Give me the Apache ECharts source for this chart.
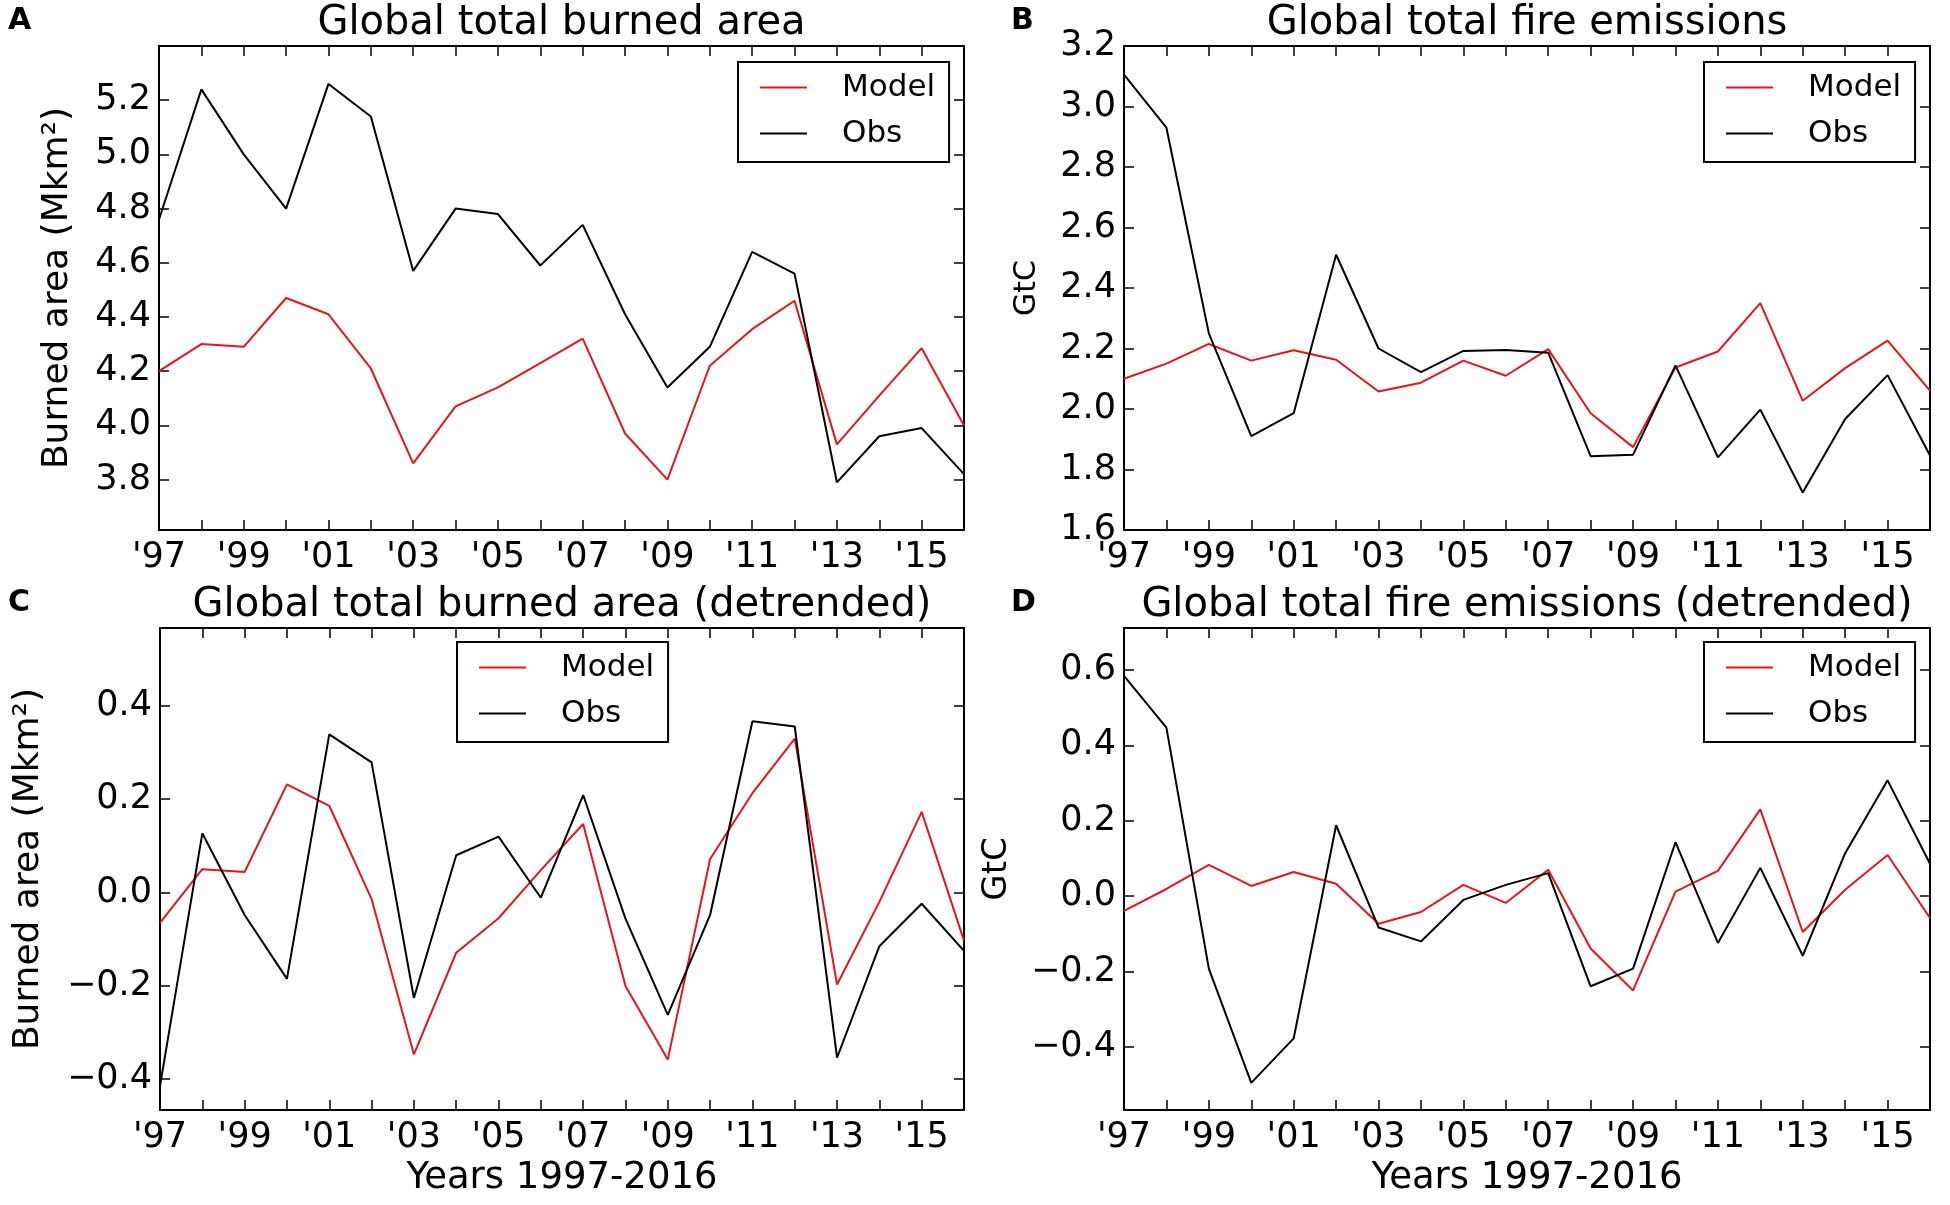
<!DOCTYPE html>
<html style="height: 100%">
<head>
  <meta charset="utf-8">
</head>
<body style="height: 100%; margin: 0; background: #fff">
  <div id="container" style="width: 1950px; height: 1205px"></div>
  <script type="text/javascript" src="https://fastly.jsdelivr.net/npm/echarts@6.0.0/dist/echarts.min.js"></script>
  <script type="text/javascript">
const years = [1997, 1998, 1999, 2000, 2001, 2002, 2003, 2004, 2005, 2006,
               2007, 2008, 2009, 2010, 2011, 2012, 2013, 2014, 2015, 2016];

// A: global total burned area (Mkm2)
const areaModel = [4.20, 4.30, 4.29, 4.47, 4.41, 4.21, 3.86, 4.07, 4.14, 4.23,
                   4.32, 3.97, 3.80, 4.22, 4.355, 4.46, 3.93, 4.11, 4.285, 4.00];
const areaObs   = [4.76, 5.24, 5.00, 4.80, 5.26, 5.14, 4.57, 4.80, 4.78, 4.59,
                   4.74, 4.41, 4.14, 4.29, 4.64, 4.56, 3.79, 3.96, 3.99, 3.82];

// B: global total fire emissions (GtC)
const emisModel = [2.10, 2.15, 2.215, 2.16, 2.194, 2.163, 2.058, 2.087, 2.16, 2.11,
                   2.198, 1.986, 1.874, 2.137, 2.19, 2.35, 2.027, 2.135, 2.226, 2.061];
const emisObs   = [3.105, 2.93, 2.25, 1.91, 1.986, 2.51, 2.20, 2.122, 2.192, 2.195,
                   2.186, 1.844, 1.849, 2.144, 1.84, 1.998, 1.724, 1.967, 2.112, 1.846];

// C: burned area, detrended
const areaModelDt = [-0.065, 0.05, 0.044, 0.232, 0.186, -0.014, -0.347, -0.129, -0.055, 0.048,
                     0.147, -0.20, -0.358, 0.072, 0.213, 0.33, -0.197, -0.02, 0.173, -0.103];
const areaObsDt   = [-0.415, 0.127, -0.048, -0.185, 0.339, 0.279, -0.226, 0.08, 0.12, -0.011,
                     0.209, -0.056, -0.262, -0.048, 0.367, 0.356, -0.354, -0.115, -0.024, -0.125];

// D: fire emissions, detrended
const emisModelDt = [-0.039, 0.019, 0.083, 0.027, 0.064, 0.033, -0.073, -0.042, 0.03, -0.018,
                     0.07, -0.139, -0.25, 0.012, 0.067, 0.23, -0.095, 0.017, 0.109, -0.058];
const emisObsDt   = [0.584, 0.447, -0.192, -0.495, -0.377, 0.188, -0.083, -0.12, -0.01, 0.03,
                     0.061, -0.239, -0.192, 0.143, -0.124, 0.075, -0.158, 0.114, 0.307, 0.086];

const ticksA = [3.8, 4.0, 4.2, 4.4, 4.6, 4.8, 5.0, 5.2];
const ticksB = [1.6, 1.8, 2.0, 2.2, 2.4, 2.6, 2.8, 3.0, 3.2];
const ticksC = [-0.4, -0.2, 0.0, 0.2, 0.4];
const ticksD = [-0.4, -0.2, 0.0, 0.2, 0.4, 0.6];

const titles = ['Global total burned area', 'Global total fire emissions',
                'Global total burned area (detrended)', 'Global total fire emissions (detrended)'];
const letters = ['A', 'B', 'C', 'D'];

var dom = document.getElementById('container');
var myChart = echarts.init(dom, null, { renderer: 'canvas' });

const FONT = 'DejaVu Sans';
const RED = '#e3161e';

var panels = [
  { grid: { left: 159, top: 46, width: 805, height: 484 }, ymin: 3.614, ymax: 5.4, ticks: ticksA,
    yname: 'Burned area (Mkm²)', ynameSize: 36, ynameGap: 83, xname: '',
    model: areaModel, obs: areaObs, legend: { left: 738, top: 62 } },
  { grid: { left: 1124, top: 46, width: 806, height: 484 }, ymin: 1.6, ymax: 3.2, ticks: ticksB,
    yname: 'GtC', ynameSize: 30, ynameGap: 82, xname: '',
    model: emisModel, obs: emisObs, legend: { left: 1704, top: 62 } },
  { grid: { left: 160, top: 628, width: 804, height: 482 }, ymin: -0.466, ymax: 0.567, ticks: ticksC,
    yname: 'Burned area (Mkm²)', ynameSize: 36, ynameGap: 113, xname: 'Years 1997-2016',
    model: areaModelDt, obs: areaObsDt, legend: { left: 457, top: 642 } },
  { grid: { left: 1124, top: 628, width: 806, height: 482 }, ymin: -0.567, ymax: 0.711, ticks: ticksD,
    yname: 'GtC', ynameSize: 34, ynameGap: 110, xname: 'Years 1997-2016',
    model: emisModelDt, obs: emisObsDt, legend: { left: 1704, top: 642 } }
];

function fmtY(v) {
  return v.toFixed(1).replace('-', '\u2212');
}

var option = {
  animation: false,
  backgroundColor: '#fff',
  title: [],
  legend: [],
  grid: [],
  xAxis: [],
  yAxis: [],
  series: []
};

panels.forEach(function (p, i) {
  option.grid.push(p.grid);
  var cx = p.grid.left + p.grid.width / 2;
  option.title.push({
    text: titles[i], left: cx, top: p.grid.top - 42, textAlign: 'center', padding: 0,
    textStyle: { fontFamily: FONT, fontSize: 40, fontWeight: 'normal', color: '#000' }
  });
  option.title.push({
    text: letters[i], left: i % 2 ? 1011 : 8, top: p.grid.top - 40, padding: 0,
    textStyle: { fontFamily: FONT, fontSize: 30, fontWeight: 'bold', color: '#000' }
  });
  option.legend.push({
    data: ['Model', 'Obs'],
    left: p.legend.left, top: p.legend.top,
    orient: 'vertical',
    icon: 'rect', itemWidth: 47, itemHeight: 2, itemGap: 15,
    padding: [10, 14, 13, 22],
    borderColor: '#000', borderWidth: 2, borderRadius: 0,
    backgroundColor: '#fff',
    selectedMode: false,
    textStyle: { fontFamily: FONT, fontSize: 31, color: '#000', padding: [0, 0, 0, 30] }
  });

  var xBase = {
    type: 'value', gridIndex: i, min: 1997, max: 2016, interval: 1,
    axisLine: { show: true, onZero: false, lineStyle: { color: '#000', width: 2 } },
    axisTick: { show: true, inside: true, length: 10, lineStyle: { color: '#000', width: 1.5 } },
    splitLine: { show: false }
  };
  option.xAxis.push(Object.assign({}, xBase, {
    position: 'bottom',
    name: p.xname, nameLocation: 'middle', nameGap: 50,
    nameTextStyle: { fontFamily: FONT, fontSize: 37, color: '#000' },
    axisLabel: {
      show: true, margin: 10, fontFamily: FONT, fontSize: 35, color: '#000',
      formatter: function (v) { return v % 2 ? "'" + String(v).slice(2) : ''; }
    }
  }));
  option.xAxis.push(Object.assign({}, xBase, { position: 'top', axisLabel: { show: false } }));

  var yBase = {
    type: 'value', gridIndex: i, min: p.ymin, max: p.ymax,
    axisLine: { show: true, onZero: false, lineStyle: { color: '#000', width: 2 } },
    axisTick: { show: true, inside: true, length: 10, customValues: p.ticks,
                lineStyle: { color: '#000', width: 1.5 } },
    splitLine: { show: false }
  };
  option.yAxis.push(Object.assign({}, yBase, {
    position: 'left',
    name: p.yname, nameLocation: 'middle', nameGap: p.ynameGap,
    nameTextStyle: { fontFamily: FONT, fontSize: p.ynameSize, color: '#000' },
    axisLabel: { show: true, margin: 8, fontFamily: FONT, fontSize: 35, color: '#000',
                 customValues: p.ticks, formatter: fmtY }
  }));
  option.yAxis.push(Object.assign({}, yBase, { position: 'right', axisLabel: { show: false } }));

  option.series.push({
    name: 'Model', type: 'line', xAxisIndex: i * 2, yAxisIndex: i * 2,
    showSymbol: false, symbol: 'none', color: RED,
    lineStyle: { color: RED, width: 2 },
    data: years.map(function (y, k) { return [y, p.model[k]]; })
  });
  option.series.push({
    name: 'Obs', type: 'line', xAxisIndex: i * 2, yAxisIndex: i * 2,
    showSymbol: false, symbol: 'none', color: '#000',
    lineStyle: { color: '#000', width: 2 },
    data: years.map(function (y, k) { return [y, p.obs[k]]; })
  });
});

myChart.setOption(option);
window.addEventListener('resize', myChart.resize);
  </script>
</body>
</html>
